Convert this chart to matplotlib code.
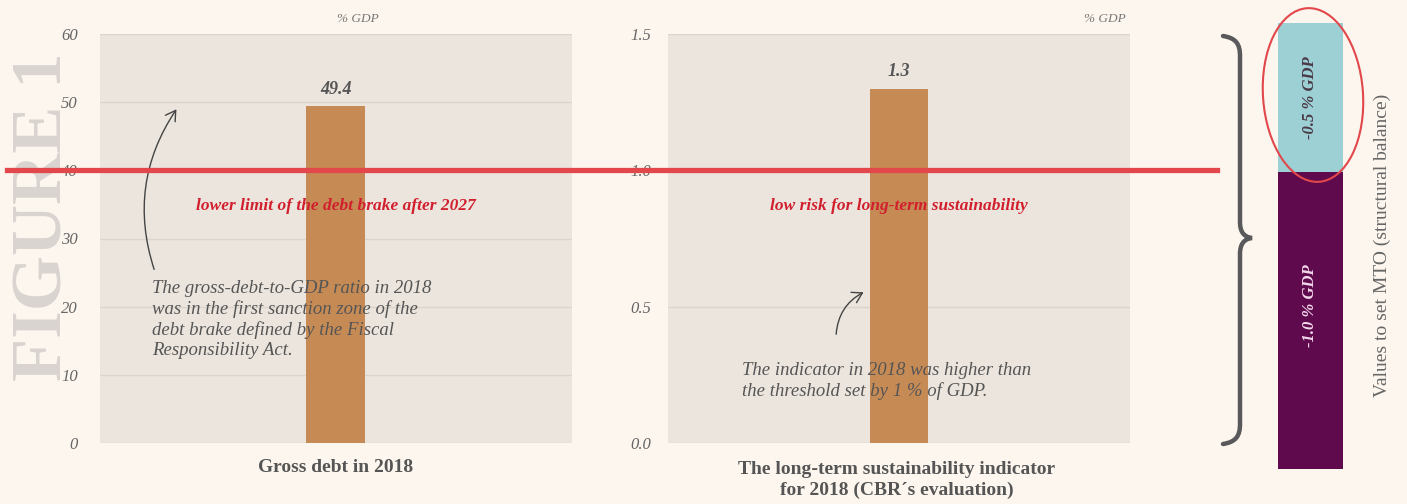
import matplotlib
matplotlib.use('Agg')
import matplotlib.pyplot as plt
from matplotlib.patches import FancyArrowPatch, Ellipse, PathPatch
from matplotlib.path import Path
from matplotlib.lines import Line2D
from matplotlib.transforms import Affine2D, blended_transform_factory

# datos
debt_label = ['Gross debt in 2018']
debt_value = [49.4]
debt_limit = 40
debt_ticks = [0, 10, 20, 30, 40, 50, 60]

ltsi_label = ['The long-term sustainability indicator\nfor 2018 (CBR´s evaluation)']
ltsi_value = [1.3]
ltsi_threshold = 1.0
ltsi_ticks = [0.0, 0.5, 1.0, 1.5]

mto_values = [1.0, 0.5]
mto_labels = ['-1.0 % GDP', '-0.5 % GDP']

# colores
BG = '#FCF6EE'
PANEL = '#EBE5DE'
GRID = '#DDD5CD'
BAR = '#C68B55'
RED = '#E2474B'
RED_TXT = '#D21F2E'
GRAY = '#555555'
TICK = '#666666'
FIG_TXT = '#D9D4CF'
TEAL = '#9DD0D4'
PURPLE = '#5E0A4C'

plt.rcParams['font.family'] = 'Liberation Serif'

W, H = 1407, 504
fig = plt.figure(figsize=(W / 100, H / 100), dpi=100, facecolor=BG)

# transformación en píxeles de la imagen (y hacia abajo)
px = Affine2D().scale(1 / W, -1 / H).translate(0, 1) + fig.transFigure


def axes_box(x0, x1, y_top, y_bot):
    return [x0 / W, 1 - y_bot / H, (x1 - x0) / W, (y_bot - y_top) / H]


def style_panel(ax, ticks, fmt, pad):
    ax.set_facecolor(PANEL)
    for s in ax.spines.values():
        s.set_visible(False)
    ax.set_xticks([])
    ax.set_yticks(ticks)
    ax.set_yticklabels([fmt.format(t) for t in ticks])
    ax.tick_params(axis='y', length=0, pad=pad, labelsize=12, labelcolor=TICK)
    for lbl in ax.get_yticklabels():
        lbl.set_fontstyle('italic')
    ax.grid(axis='y', color=GRID, lw=1)
    ax.set_axisbelow(True)
    ax.set_xlim(-0.5, 0.5)


# "FIGURE 1" en vertical, detrás de todo
fig.text(44, 217, 'FIGURE 1', transform=px, rotation=90, ha='center',
         va='center', fontsize=51, fontweight='bold', color=FIG_TXT, zorder=-1)

# panel 1: deuda bruta
ax1 = fig.add_axes(axes_box(100, 572, 34, 443))
ax1.bar([0], debt_value, width=0.125, color=BAR, zorder=2)
ax1.set_ylim(0, 60)
style_panel(ax1, debt_ticks, '{:d}', 16)
for v in debt_value:
    ax1.annotate(f'{v:.1f}', (0, v), xytext=(0, 6), textcoords='offset points',
                 ha='center', va='bottom', fontsize=13, fontweight='bold',
                 fontstyle='italic', color=GRAY)

# panel 2: indicador de sostenibilidad
ax2 = fig.add_axes(axes_box(668, 1130, 34, 443))
ax2.bar([0], ltsi_value, width=0.126, color=BAR, zorder=2)
ax2.set_ylim(0, 1.5)
style_panel(ax2, ltsi_ticks, '{:.1f}', 12)
for v in ltsi_value:
    ax2.annotate(f'{v:.1f}', (0, v), xytext=(0, 6), textcoords='offset points',
                 ha='center', va='bottom', fontsize=13, fontweight='bold',
                 fontstyle='italic', color=GRAY)

# barra apilada del MTO
ax3 = fig.add_axes(axes_box(1278, 1343, 23, 469))
bottom = 0
txt_colors = ['#F3D9EC', '#4A3A48']
for v, lab, c, tc in zip(mto_values, mto_labels, [PURPLE, TEAL], txt_colors):
    ax3.bar([0], [v], bottom=bottom, width=1.0, color=c)
    ax3.text(0, bottom + v * (0.55 if v > 0.6 else 0.5), lab, rotation=90,
             ha='center', va='center', fontsize=12, fontweight='bold',
             fontstyle='italic', color=tc)
    bottom += v
ax3.set_xlim(-0.5, 0.5)
ax3.set_ylim(0, 1.5)
ax3.axis('off')

# línea roja del umbral, atraviesa ambos paneles
line_tr = blended_transform_factory(fig.transFigure, ax1.transData)
fig.add_artist(Line2D([7 / W, 1217 / W], [debt_limit, debt_limit],
                      transform=line_tr, color=RED, lw=3.8, zorder=4))

# unidades
fig.text(358, 19, '% GDP', transform=px, ha='center', va='center',
         fontsize=9.5, fontstyle='italic', color='#777777')
fig.text(1105, 19, '% GDP', transform=px, ha='center', va='center',
         fontsize=9.5, fontstyle='italic', color='#777777')

# etiquetas rojas
fig.text(336, 206, 'lower limit of the debt brake after 2027', transform=px,
         ha='center', va='center', fontsize=12.5, fontweight='bold',
         fontstyle='italic', color=RED_TXT)
fig.text(899, 206, 'low risk for long-term sustainability', transform=px,
         ha='center', va='center', fontsize=12.5, fontweight='bold',
         fontstyle='italic', color=RED_TXT)

# notas explicativas
fig.text(152, 280, 'The gross-debt-to-GDP ratio in 2018\n'
         'was in the first sanction zone of the\n'
         'debt brake defined by the Fiscal\n'
         'Responsibility Act.', transform=px, ha='left', va='top',
         fontsize=13.5, fontstyle='italic', color=GRAY, linespacing=1.22)
fig.text(742, 362, 'The indicator in 2018 was higher than\n'
         'the threshold set by 1 % of GDP.', transform=px, ha='left',
         va='top', fontsize=13.5, fontstyle='italic', color=GRAY,
         linespacing=1.22)

# flechas a mano alzada
fig.add_artist(FancyArrowPatch((155, 272), (178, 107), transform=px,
                               connectionstyle='arc3,rad=-0.25',
                               arrowstyle='->,head_length=0.5,head_width=0.3',
                               mutation_scale=14, color='#444444', lw=1.0))
fig.add_artist(FancyArrowPatch((836, 337), (866, 291), transform=px,
                               connectionstyle='arc3,rad=-0.3',
                               arrowstyle='->,head_length=0.5,head_width=0.3',
                               mutation_scale=14, color='#444444', lw=1.0))

# títulos bajo cada panel
fig.text(336, 467, debt_label[0], transform=px, ha='center', va='center',
         fontsize=14, fontweight='bold', color=GRAY)
fig.text(897, 480, ltsi_label[0], transform=px, ha='center', va='center',
         fontsize=14, fontweight='bold', color=GRAY, linespacing=1.3)

# llave
verts = [(1223, 36), (1236, 38), (1240, 44), (1240, 56),
         (1240, 222),
         (1240, 232), (1244, 237), (1252, 238),
         (1244, 239), (1240, 244), (1240, 254),
         (1240, 424),
         (1240, 436), (1236, 442), (1223, 444)]
codes = [Path.MOVETO, Path.CURVE4, Path.CURVE4, Path.CURVE4,
         Path.LINETO,
         Path.CURVE4, Path.CURVE4, Path.CURVE4,
         Path.CURVE4, Path.CURVE4, Path.CURVE4,
         Path.LINETO,
         Path.CURVE4, Path.CURVE4, Path.CURVE4]
fig.add_artist(PathPatch(Path(verts, codes), transform=px, fill=False,
                         edgecolor='#59595B', lw=3.2, capstyle='round'))

# elipse roja alrededor de -0.5 %
fig.add_artist(Ellipse((1313, 95), 100, 174, angle=-4, transform=px,
                       fill=False, edgecolor=RED, lw=1.5, zorder=5))

fig.text(1382, 245, 'Values to set MTO (structural balance)', transform=px,
         rotation=90, ha='center', va='center', fontsize=14, color='#666666')

fig.savefig('out.png', dpi=100, facecolor=BG)
